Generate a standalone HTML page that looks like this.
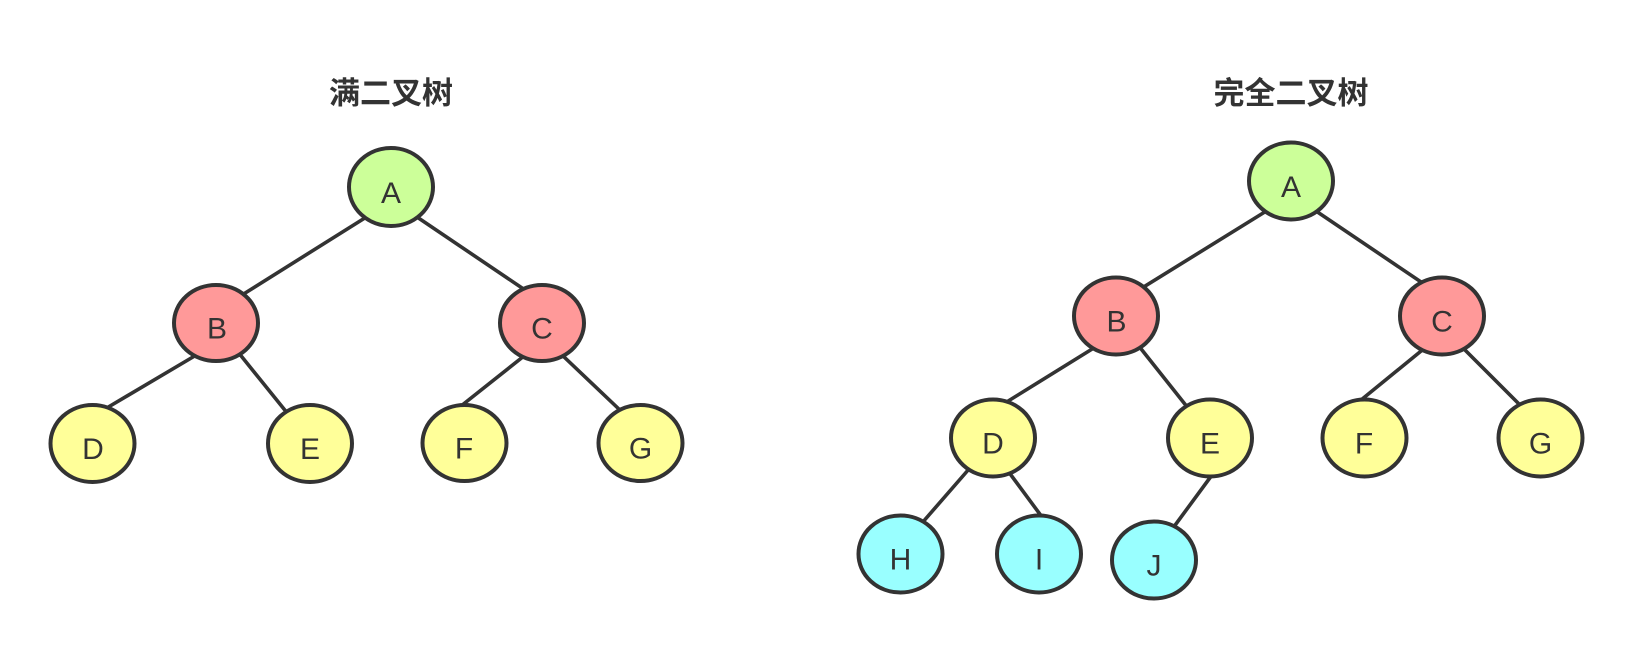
<!DOCTYPE html>
<html>
<head>
<meta charset="utf-8">
<style>
  html, body { margin:0; padding:0; background:#ffffff; }
  body { width:1633px; height:650px; overflow:hidden; }
  svg { display:block; }
  .t { font-family:"Liberation Sans","Noto Sans CJK SC",sans-serif; font-size:31px; font-weight:700; fill:#333333; }
  .l { font-family:"Liberation Sans",sans-serif; font-size:30px; fill:#333333; }
  line { stroke:#333333; stroke-width:3.6; stroke-linecap:round; }
  ellipse { stroke:#333333; stroke-width:4; }
  .g { fill:#ccff99; }
  .r { fill:#ff9999; }
  .y { fill:#ffff99; }
  .c { fill:#99ffff; }
</style>
</head>
<body>
<svg width="1633" height="650" viewBox="0 0 1633 650" xmlns="http://www.w3.org/2000/svg">
  <rect x="0" y="0" width="1633" height="650" fill="#ffffff"/>

  <!-- Titles -->
  <text class="t" x="391" y="104" text-anchor="middle">满二叉树</text>
  <text class="t" x="1291" y="104" text-anchor="middle">完全二叉树</text>

  <!-- Left tree edges -->
  <line x1="368" y1="216" x2="242" y2="295"/>
  <line x1="414" y1="215" x2="525" y2="290"/>
  <line x1="198" y1="354" x2="105" y2="409"/>
  <line x1="238" y1="352" x2="288" y2="414"/>
  <line x1="524" y1="356" x2="461" y2="406"/>
  <line x1="562" y1="355" x2="622" y2="412"/>

  <!-- Right tree edges -->
  <line x1="1268" y1="210" x2="1142" y2="288"/>
  <line x1="1313" y1="209" x2="1427" y2="286"/>
  <line x1="1097" y1="346" x2="1005" y2="403"/>
  <line x1="1138" y1="345" x2="1188" y2="408"/>
  <line x1="1426" y1="347" x2="1361" y2="400"/>
  <line x1="1461" y1="346" x2="1522" y2="407"/>
  <line x1="969" y1="469" x2="922" y2="523"/>
  <line x1="1008" y1="471" x2="1042" y2="517"/>
  <line x1="1212" y1="475" x2="1173" y2="528"/>

  <!-- Left tree nodes -->
  <ellipse class="g" cx="391" cy="187" rx="42" ry="39"/>
  <ellipse class="r" cx="216" cy="323" rx="42" ry="38"/>
  <ellipse class="r" cx="542" cy="323" rx="42" ry="38"/>
  <ellipse class="y" cx="92.5" cy="443.5" rx="42" ry="38.5"/>
  <ellipse class="y" cx="310" cy="443.5" rx="42" ry="38.5"/>
  <ellipse class="y" cx="464.5" cy="443" rx="42" ry="38"/>
  <ellipse class="y" cx="640.5" cy="443" rx="42" ry="38"/>

  <text class="l" x="391" y="203" text-anchor="middle">A</text>
  <text class="l" x="217" y="338.5" text-anchor="middle">B</text>
  <text class="l" x="542" y="338.5" text-anchor="middle">C</text>
  <text class="l" x="93" y="459" text-anchor="middle">D</text>
  <text class="l" x="310" y="459" text-anchor="middle">E</text>
  <text class="l" x="464" y="458.5" text-anchor="middle">F</text>
  <text class="l" x="640.5" y="458.5" text-anchor="middle">G</text>

  <!-- Right tree nodes -->
  <ellipse class="g" cx="1291" cy="181" rx="42" ry="38.5"/>
  <ellipse class="r" cx="1116" cy="316" rx="42" ry="38.5"/>
  <ellipse class="r" cx="1442" cy="316" rx="42" ry="38.5"/>
  <ellipse class="y" cx="993" cy="438" rx="42" ry="38.5"/>
  <ellipse class="y" cx="1210" cy="438" rx="42" ry="38.5"/>
  <ellipse class="y" cx="1364.5" cy="438" rx="42" ry="38.5"/>
  <ellipse class="y" cx="1540.5" cy="438" rx="42" ry="38.5"/>
  <ellipse class="c" cx="900.5" cy="554" rx="42" ry="38.5"/>
  <ellipse class="c" cx="1039" cy="554" rx="42" ry="38.5"/>
  <ellipse class="c" cx="1154" cy="560" rx="42" ry="38.5"/>

  <text class="l" x="1291" y="197" text-anchor="middle">A</text>
  <text class="l" x="1116.5" y="331.5" text-anchor="middle">B</text>
  <text class="l" x="1442" y="331.5" text-anchor="middle">C</text>
  <text class="l" x="993" y="453.5" text-anchor="middle">D</text>
  <text class="l" x="1210" y="453.5" text-anchor="middle">E</text>
  <text class="l" x="1364" y="453.5" text-anchor="middle">F</text>
  <text class="l" x="1540.5" y="453.5" text-anchor="middle">G</text>
  <text class="l" x="900.5" y="569.5" text-anchor="middle">H</text>
  <text class="l" x="1039" y="569.5" text-anchor="middle">I</text>
  <text class="l" x="1154" y="575.5" text-anchor="middle">J</text>
</svg>
</body>
</html>
